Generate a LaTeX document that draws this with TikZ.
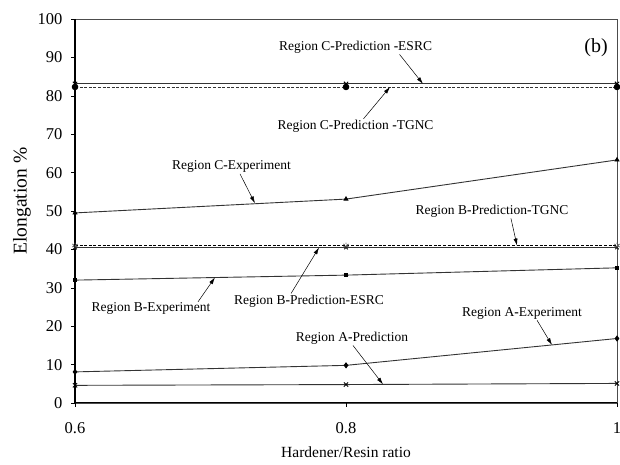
\documentclass[tikz,border=0pt]{standalone}
\usepackage{fontspec}
\setmainfont{Liberation Serif}
\usetikzlibrary{plotmarks,arrows.meta}
\begin{document}
\begin{tikzpicture}[x=1355pt,y=3.84pt,
  series/.style={line width=0.9pt,black!80,mark size=2.2pt,mark options={solid,fill=black,draw=black}},
  dashseries/.style={series,dash pattern=on 3pt off 1.6pt},
  note/.style={font=\fontsize{13.5}{15}\selectfont,inner sep=1pt},
  pointer/.style={-{Latex[length=7pt,width=4pt]},line width=0.5pt},
  ticklabel/.style={font=\fontsize{16.5}{18}\selectfont}]
\useasboundingbox (0.54465,-16.146) rectangle (1.00221,104.948);
\draw[black!70,line width=0.7pt] (0.6,0) rectangle (1,100);
\draw[line width=1.5pt] (0.6,0) -- (0.6,100);
\draw[line width=1pt] (0.6,0) -- (1,0);
\foreach \v in {0,10,...,100}{
  \draw (0.6,\v) -- ++(-4pt,0);
  \node[ticklabel,anchor=east,xshift=-9pt] (y\v) at (0.6,\v) {\v};
}
\foreach \u/\n in {0.6/a,0.8/b,1/c}{
  \draw (\u,0) -- ++(0,-4pt);
  \node[ticklabel] (x\n) at (\u,-6.6) {\u};
}
\node[font=\fontsize{15.5}{17}\selectfont] (xtitle) at (0.8,-12.8) {Hardener/Resin ratio};
\node[font=\fontsize{19.5}{21}\selectfont,rotate=90] (ytitle) at (0.5609,52.6) {Elongation \%};
\node[font=\fontsize{20}{22}\selectfont] (panel) at (0.9845,92.4) {(b)};

\draw[series,mark=x,mark size=3pt] plot coordinates {(0.6,83.1) (0.8,83.1) (1,83.1)};
\draw[dashseries,mark=*,mark size=2.8pt] plot coordinates {(0.6,82.3) (0.8,82.3) (1,82.3)};
\draw[series,mark=triangle*] plot coordinates {(0.6,49.5) (0.8,53.1) (1,63.3)};
\draw[series,mark=x,mark size=2.5pt] plot coordinates {(0.6,40.5) (0.8,40.5) (1,40.5)};
\draw[dashseries,black,mark=asterisk,mark size=3pt,mark options={draw=black!60}] plot coordinates {(0.6,41.0) (0.8,41.0) (1,41.0)};
\draw[series,mark=square*,mark size=1.6pt] plot coordinates {(0.6,32.0) (0.8,33.3) (1,35.2)};
\draw[series,mark=diamond*,mark size=2.4pt] plot coordinates {(0.6,8.1) (0.8,9.8) (1,16.8)};
\draw[series,mark=x,mark size=3pt] plot coordinates {(0.6,4.6) (0.8,4.8) (1,5.1)};

\node[note] (cesrc) at (0.807,92.7) {Region C\textbf{-}Prediction \textbf{-}ESRC};
\node[note] (ctgnc) at (0.807,72.1) {Region C\textbf{-}Prediction \textbf{-}TGNC};
\node[note] (cexp) at (0.7155,61.5) {Region C\textbf{-}Experiment};
\node[note] (btgnc) at (0.9077,50.0) {Region B\textbf{-}Prediction\textbf{-}TGNC};
\node[note] (besrc) at (0.7727,26.6) {Region B\textbf{-}Prediction\textbf{-}ESRC};
\node[note] (bexp) at (0.6561,24.5) {Region B\textbf{-}Experiment};
\node[note] (aexp) at (0.9299,23.4) {Region A\textbf{-}Experiment};
\node[note] (apred) at (0.8044,16.9) {Region A\textbf{-}Prediction};

\coordinate (cesrcTip) at (0.8568,83.1);
\coordinate (ctgncTip) at (0.8325,82.3);
\coordinate (cexpTip) at (0.7328,52.0);
\coordinate (btgncTip) at (0.9262,41.0);
\coordinate (besrcTip) at (0.7801,40.5);
\coordinate (bexpTip) at (0.7033,32.7);
\coordinate (aexpTip) at (0.952,15.1);
\coordinate (apredTip) at (0.8273,4.85);

\draw[pointer] ([xshift=44pt]cesrc.south) -- (cesrcTip);
\draw[pointer] ([xshift=8pt]ctgnc.north) -- (ctgncTip);
\draw[pointer] ([xshift=8.5pt]cexp.south) -- (cexpTip);
\draw[pointer] ([xshift=19pt]btgnc.south) -- (btgncTip);
\draw[pointer] ([xshift=-18pt]besrc.north) -- (besrcTip);
\draw[pointer] ([xshift=47pt]bexp.north) -- (bexpTip);
\draw[pointer] ([xshift=15pt]aexp.south) -- (aexpTip);
\draw[pointer] ([xshift=1pt]apred.south) -- (apredTip);
\end{tikzpicture}
\end{document}
